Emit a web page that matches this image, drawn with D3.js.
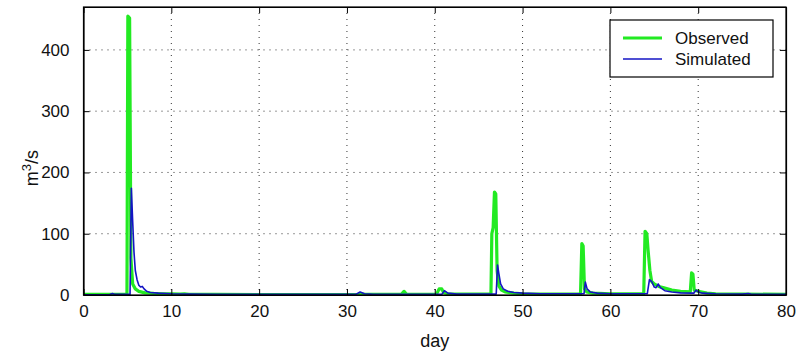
<html>
<head>
<style>
  body { margin: 0; background: #fff; }
  text { font-family: "Liberation Sans", Arial, sans-serif; fill: #111; }
  .grid line { stroke: #333; stroke-dasharray: 1,5; stroke-width: 1; }
</style>
<script src="https://d3js.org/d3.v7.min.js"></script>
</head>
<body>
<svg width="798" height="353"></svg>
<script>
// observed flow, m3/s
let obsDays = [0, 2, 4, 4.95, 5.05, 5.25, 5.4, 5.6, 5.9, 6.3, 7, 8, 9, 10, 11, 11.5, 12, 15, 20, 25, 30, 31.3, 31.7, 32,
  36.2, 36.5, 36.8, 40.2, 40.5, 40.8, 41, 41.5, 43, 46.4, 46.5, 46.65, 46.8, 46.95, 47.1, 47.3, 47.6, 48, 49, 50, 52, 55,
  56.6, 56.75, 56.9, 57.05, 57.3, 58, 60, 63.8, 63.95, 64.15, 64.3, 64.5, 64.7, 65, 65.5, 66, 67, 68, 69.1, 69.25, 69.4,
  69.55, 70, 71, 72, 75, 80]
let obsQ = [1, 1, 1.2, 1.5, 455, 452, 60, 18, 10, 6, 3.5, 2.5, 2, 1.8, 1.5, 2, 1.2, 1, 0.8, 0.8, 0.8, 1, 1.5, 1,
  1, 6, 1, 1, 10, 10, 4, 2, 1.5, 1.5, 100, 110, 168, 165, 40, 15, 8, 5, 3, 2, 1.5, 1.5,
  1.5, 84, 80, 10, 5, 3, 2, 2, 104, 100, 72, 40, 22, 18, 14, 12, 8, 6, 5, 36, 34,
  8, 6, 3, 2, 1.5, 1]

// simulated flow, m3/s
let simDays = [0, 3, 3.3, 3.6, 5.3, 5.45, 5.6, 5.75, 5.9, 6.1, 6.3, 6.5, 6.7, 6.9, 7.2, 7.6, 8.5, 10, 12, 15, 20, 25, 31,
  31.5, 32, 33, 40.8, 41.1, 41.5, 42.5, 47, 47.15, 47.3, 47.5, 47.8, 48.3, 49, 50, 52, 57, 57.15, 57.35, 57.7, 58.5, 60,
  64.2, 64.45, 64.7, 65, 65.2, 65.45, 65.7, 66.2, 67, 68, 69.5, 69.75, 70, 70.5, 72, 75, 75.7, 76, 80]
let simQ = [0.5, 0.8, 2.5, 1, 1, 174, 120, 70, 40, 25, 16, 13, 14, 10, 6, 4, 3, 2, 1.5, 1, 1, 1, 1,
  5, 2, 1, 1, 7, 3, 1.5, 1.5, 49, 35, 18, 10, 6, 4, 3, 2, 2, 21, 10, 5, 3, 2,
  2, 25, 22, 13, 12, 18, 12, 7, 5, 3.5, 3, 8, 5, 3, 2, 1.5, 2.5, 1.5, 1]

let xTicks = [0, 10, 20, 30, 40, 50, 60, 70, 80]
let yTicks = [0, 100, 200, 300, 400]

let svg = d3.select("svg"),
    mLeft = 83.5, mRight = 786, mTop = 7, mBottom = 295

let x = d3.scaleLinear().domain([0, 80]).range([mLeft, mRight]),
    y = d3.scaleLinear().domain([0, 470]).range([mBottom, mTop])

// grid
let grid = svg.append("g").attr("class", "grid")
grid.selectAll(".gx").data(xTicks.slice(1, -1)).enter().append("line")
  .attr("x1", d => x(d)).attr("x2", d => x(d)).attr("y1", mTop).attr("y2", mBottom)
grid.selectAll(".gy").data(yTicks.slice(1)).enter().append("line")
  .attr("x1", mLeft).attr("x2", mRight).attr("y1", d => y(d)).attr("y2", d => y(d))

let obs = obsDays.map((d, i) => [d, obsQ[i]])
let sim = simDays.map((d, i) => [d, simQ[i]])
let line = d3.line().x(d => x(d[0])).y(d => y(d[1]))

svg.append("path").datum(obs).attr("d", line)
  .attr("fill", "none").attr("stroke", "#22ea22").attr("stroke-width", 3.2).attr("stroke-linejoin", "round")
svg.append("path").datum(sim).attr("d", line)
  .attr("fill", "none").attr("stroke", "#1414c4").attr("stroke-width", 1.6).attr("stroke-linejoin", "round")

// axes with inward ticks, mirrored on top / right
let fmt = d3.format("d")
svg.append("g").attr("transform", "translate(0," + mBottom + ")")
  .call(d3.axisBottom(x).tickValues(xTicks).tickSizeInner(-6).tickSizeOuter(0).tickPadding(10).tickFormat(fmt))
svg.append("g").attr("transform", "translate(0," + mTop + ")")
  .call(d3.axisTop(x).tickValues(xTicks).tickSizeInner(-6).tickSizeOuter(0).tickFormat(""))
svg.append("g").attr("transform", "translate(" + mLeft + ",0)")
  .call(d3.axisLeft(y).tickValues(yTicks).tickSizeInner(-6).tickSizeOuter(0).tickPadding(14).tickFormat(fmt))
svg.append("g").attr("transform", "translate(" + mRight + ",0)")
  .call(d3.axisRight(y).tickValues(yTicks).tickSizeInner(-6).tickSizeOuter(0).tickFormat(""))

svg.selectAll(".domain").attr("stroke", "#000").attr("stroke-width", 1.2)
svg.selectAll(".tick line").attr("stroke", "#000")
svg.selectAll(".tick text").attr("font-size", 17).attr("font-family", "Liberation Sans, Arial, sans-serif").attr("fill", "#111")

svg.append("rect").attr("x", mLeft).attr("y", mTop).attr("width", mRight - mLeft).attr("height", mBottom - mTop)
  .attr("fill", "none").attr("stroke", "#000").attr("stroke-width", 1.2)

// axis labels
svg.append("text").attr("x", (mLeft + mRight) / 2).attr("y", 347).attr("text-anchor", "middle")
  .attr("font-size", 18).text("day")
let yl = svg.append("text").attr("transform", "translate(38,168) rotate(-90)").attr("text-anchor", "middle")
  .attr("font-size", 18)
yl.append("tspan").text("m")
yl.append("tspan").attr("dy", -7).attr("font-size", 13).text("3")
yl.append("tspan").attr("dy", 7).text("/s")

// legend
let lg = svg.append("g")
lg.append("rect").attr("x", 610).attr("y", 20).attr("width", 163).attr("height", 57)
  .attr("fill", "#fff").attr("stroke", "#000").attr("stroke-width", 1.2)
lg.append("line").attr("x1", 623).attr("x2", 662).attr("y1", 38).attr("y2", 38)
  .attr("stroke", "#22ea22").attr("stroke-width", 3.2)
lg.append("line").attr("x1", 623).attr("x2", 662).attr("y1", 59).attr("y2", 59)
  .attr("stroke", "#1414c4").attr("stroke-width", 1.6)
lg.append("text").attr("x", 675).attr("y", 44).attr("font-size", 17).text("Observed")
lg.append("text").attr("x", 675).attr("y", 65).attr("font-size", 17).text("Simulated")
</script>
</body>
</html>
